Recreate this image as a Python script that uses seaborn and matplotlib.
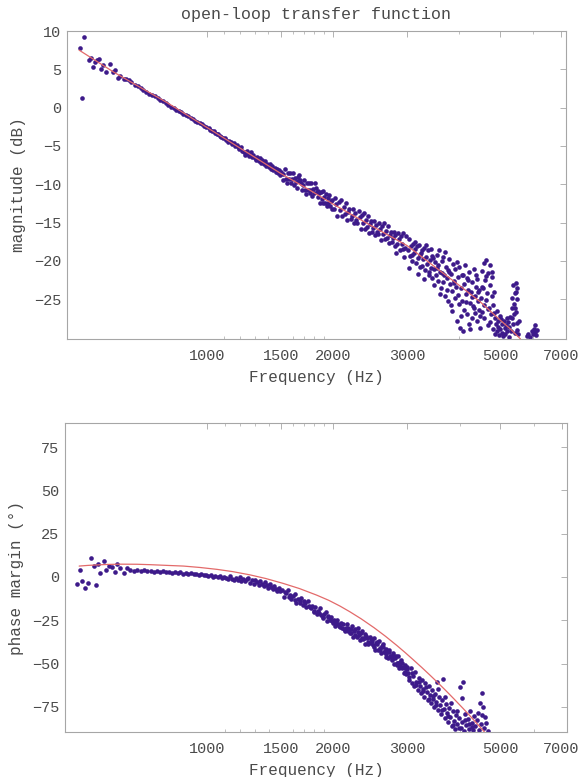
import matplotlib

matplotlib.use("Agg")

import matplotlib.pyplot as plt
import seaborn as sns
from matplotlib.ticker import NullFormatter

# ---- magnitude panel: measured points (Hz, dB) ----
mag_freq = [
    496, 509, 502, 522, 529, 533, 541, 546, 552, 558,
    563, 574, 588, 596, 604, 612, 621, 632, 641, 650,
    660, 672, 683, 695, 705, 716, 728, 740, 750, 762,
    773, 785, 796, 808, 820, 832, 843, 855, 866, 878,
    890, 902, 914, 925, 937, 948, 960, 972, 984, 996,
    1008, 1018, 1027, 1036, 1045, 1055, 1064, 1073, 1082, 1092,
    1101, 1110, 1120, 1130, 1139, 1148, 1158, 1167, 1176, 1186,
    1195, 1205, 1214, 1224, 1233, 1242, 1252, 1262, 1271, 1280,
    1290, 1300, 1309, 1318, 1328, 1337, 1346, 1356, 1365, 1374,
    1384, 1393, 1402, 1412, 1421, 1431, 1440, 1449, 1459, 1468,
    1478, 1487, 1496,
    1505, 1514, 1522, 1531, 1540, 1548, 1557, 1566, 1574, 1583,
    1592, 1600, 1609, 1618, 1626, 1635, 1644, 1652, 1661, 1670,
    1678, 1687, 1696, 1705, 1713, 1722, 1731, 1739, 1748, 1757,
    1765, 1774, 1783, 1791, 1800, 1809, 1817, 1826, 1835, 1843,
    1852, 1861, 1869, 1878, 1887, 1895, 1904, 1913, 1921, 1930,
    1939, 1947, 1956, 1965, 1973, 1982, 1991,
    2005, 2019, 2033, 2047, 2061, 2075, 2089, 2103, 2117, 2131,
    2145, 2159, 2173, 2187, 2201, 2215, 2229, 2243, 2257, 2271,
    2285, 2299, 2313, 2327, 2341, 2355, 2369, 2383, 2397, 2411,
    2425, 2439, 2453, 2467, 2481, 2495, 2509, 2523, 2537, 2551,
    2565, 2579, 2593, 2607, 2621, 2635, 2649, 2663, 2677, 2691,
    2705, 2719, 2733, 2747, 2761, 2775, 2789, 2803, 2817, 2831,
    2845, 2859, 2873, 2887, 2901, 2915, 2929, 2943, 2957, 2971,
    2985,
    3010, 3030, 3050, 3065, 3080, 3100, 3115, 3130, 3150, 3165,
    3180, 3200, 3215, 3230, 3250, 3265, 3280, 3300, 3315, 3330,
    3350, 3365, 3380, 3400, 3415, 3430, 3450, 3465, 3480, 3500,
    3515, 3530, 3550, 3565, 3580, 3600, 3615, 3630, 3650, 3665,
    3680, 3700, 3715, 3730, 3750, 3765, 3780, 3800, 3815, 3830,
    3850, 3865, 3880, 3900, 3915, 3930, 3950, 3965, 3980, 4000,
    4015, 4030, 4050, 4065, 4080, 4100, 4115, 4130, 4150, 4165,
    4180, 4200, 4215, 4230, 4250, 4265, 4280, 4300, 4315, 4330,
    4350, 4365, 4380, 4400, 4415, 4430, 4450, 4465, 4480, 4500,
    4520, 4540, 4555, 4570, 4590, 4610, 4625, 4640, 4660, 4675,
    4690, 4710, 4725, 4740, 4760, 4775, 4790, 4810, 4825, 4840,
    4860, 4875, 4890, 4910, 4925, 4940, 4960, 4975, 4990,
    5010, 5030, 5050, 5070, 5090, 5110, 5130, 5150, 5170, 5190,
    5210, 5230, 5250, 5270, 5290, 5310, 5330, 5350, 5370, 5385,
    5400, 5415, 5430, 5445, 5460, 5475, 5490, 5505, 5520, 5540,
    5790, 5850, 5900, 5950, 5990, 6020, 6050, 6080, 6110, 6140,
    3040, 3090, 3140, 3190, 3240, 3290, 3340, 3390, 3440, 3490,
    3540, 3590, 3640, 3690, 3740, 3790, 3840, 3890, 3940, 3990,
    4040, 4090, 4140, 4190, 4240, 4290, 4340, 4390, 4440, 4490,
    4530, 4580, 4630, 4680, 4730, 4780, 4830, 5340, 5420, 5480,
    5460, 5500,
]
mag_db = [
    7.8, 9.2, 1.2, 6.2, 6.5, 5.3, 6.0, 6.2, 6.3, 5.1,
    5.5, 4.7, 5.7, 4.7, 4.9, 3.9, 4.1, 3.8, 3.8, 3.6,
    3.3, 3.0, 2.8, 2.5, 2.35, 2.0, 1.8, 1.6, 1.5, 1.2,
    1.0, 0.8, 0.6, 0.4, 0.1, 0.0, -0.25, -0.4, -0.6, -0.8,
    -1.0, -1.1, -1.4, -1.5, -1.7, -1.85, -2.0, -2.2, -2.35, -2.5,
    -2.7, -2.9, -3.0, -3.1, -3.3, -3.4, -3.5, -3.7, -3.8, -3.9,
    -4.0, -4.2, -4.5, -4.3, -4.5, -4.8, -4.6, -5.0, -4.9, -5.2,
    -5.4, -5.2, -5.6, -5.8, -6.2, -5.7, -6.0, -6.3, -5.8, -6.5,
    -6.2, -6.6, -6.9, -6.4, -7.0, -6.6, -7.2, -6.9, -7.4, -7.0,
    -7.6, -7.3, -7.8, -7.4, -8.0, -7.6, -8.2, -7.9, -8.4, -8.0,
    -8.5, -8.2, -8.8,
    -8.4, -9.4, -8.7, -8.0, -9.3, -9.9, -8.5, -9.3, -8.5, -9.8,
    -9.3, -8.5, -10.1, -9.2, -9.7, -10.5, -9.1, -9.6, -8.8, -9.5,
    -9.8, -10.8, -10.1, -9.4, -10.7, -11.3, -9.9, -10.7, -9.9, -11.2,
    -10.7, -9.9, -11.5, -10.6, -11.1, -9.9, -10.5, -11.0, -11.7, -10.9,
    -11.2, -12.4, -11.0, -11.9, -10.9, -12.4, -11.7, -12.4, -11.3, -12.8,
    -11.8, -12.4, -11.4, -12.9, -12.2, -13.2, -12.1,
    -13.2, -11.8, -12.6, -14.1, -12.3, -13.3, -12.0, -14.1, -13.0, -13.9,
    -12.5, -14.7, -13.6, -13.2, -14.6, -14.1, -13.2, -15.1, -13.7, -14.7,
    -15.0, -13.5, -14.3, -15.8, -14.0, -15.0, -13.7, -15.8, -14.7, -15.6,
    -14.1, -16.3, -15.2, -14.8, -16.2, -15.7, -14.8, -16.6, -15.3, -16.2,
    -16.5, -15.0, -15.8, -17.3, -15.5, -16.5, -15.1, -17.2, -16.1, -17.0,
    -15.5, -17.7, -16.6, -16.2, -17.6, -17.0, -16.2, -18.0, -16.6, -19.0,
    -17.8, -16.3, -17.1, -18.6, -16.8, -17.8, -16.4, -18.5, -19.5, -18.3,
    -16.8,
    -18.6, -17.2, -19.4, -18.1, -20.0, -17.8, -19.0, -18.5, -20.3, -18.0,
    -19.6, -17.9, -20.8, -19.2, -18.6, -20.7, -19.8, -18.3, -21.2, -19.5,
    -20.4, -18.6, -21.5, -19.9, -18.4, -20.9, -22.2, -19.6, -21.0, -20.2,
    -21.8, -19.2, -22.6, -20.5, -18.6, -21.4, -23.5, -20.0, -22.7, -19.5,
    -21.9, -24.6, -20.8, -22.3, -25.3, -21.2, -19.7, -23.0, -25.8, -21.7,
    -23.9, -20.4, -22.6, -24.8, -21.0, -23.4, -27.9, -22.1, -24.4, -20.8,
    -28.7, -23.6, -21.9, -25.2, -29.2, -23.0, -26.4, -20.6, -24.3, -22.2,
    -26.9, -23.8, -28.3, -21.5, -25.5, -24.0, -27.4, -22.8, -25.9, -21.0,
    -24.6, -26.8, -23.4, -27.9, -22.4, -25.3, -26.4, -23.8, -28.8, -24.9,
    -21.3, -26.7, -23.6, -20.3, -27.5, -22.5, -25.1, -19.9, -24.2, -28.4,
    -21.6, -26.2, -23.1, -20.6, -27.0, -24.6, -22.1, -28.9, -25.7, -26.8,
    -29.5, -27.4, -28.2, -26.5, -29.1, -27.8, -28.6, -29.7, -27.2,
    -28.9, -27.6, -29.4, -28.2, -29.8, -27.9, -28.8, -29.6, -28.4, -27.5,
    -29.2, -28.0, -29.9, -28.6, -27.3, -29.1, -26.2, -24.8, -28.3, -23.1,
    -27.0, -25.6, -29.4, -24.2, -26.7, -22.9, -28.1, -25.0, -29.6, -27.8,
    -29.8, -29.5, -29.9, -29.2, -29.6, -28.9, -28.4, -29.3, -29.7, -29.0,
    -20.9, -19.3, -17.6, -21.7, -19.0, -22.4, -17.9, -21.9, -19.4, -23.1,
    -20.9, -24.3, -21.6, -18.9, -23.8, -21.5, -26.5, -22.9, -20.1, -25.6,
    -27.2, -21.8, -25.4, -22.5, -28.9, -24.7, -26.1, -21.9, -24.1, -27.2,
    -23.4, -25.8, -22.0, -26.3, -28.0, -21.4, -24.0, -27.4, -26.1, -29.0,
    -24.0, -23.5,
]

# magnitude fit curve
mag_fit_freq = [495, 600, 700, 800, 1000, 1250, 1500, 1750, 2000, 2500,
                3000, 3500, 4000, 4500, 5000, 5300, 5600]
mag_fit_db = [7.5, 4.6, 2.5, 0.7, -2.6, -5.9, -8.6, -10.7, -12.6, -15.6,
              -18.0, -20.8, -23.2, -25.4, -27.7, -28.9, -30.2]

# ---- phase panel: measured points (Hz, degrees) ----
phase_freq = [
    488, 496, 503, 511, 519, 527, 536, 544, 548, 556,
    566, 575, 582, 593, 604, 610, 621, 634, 644,
    655, 668, 681, 694, 707, 720, 733, 746, 759, 772,
    785, 798, 811, 824, 837, 850, 863, 876, 889, 902,
    915, 928, 941, 954, 967, 980, 993, 1006, 1019, 1032,
    1045, 1058, 1071, 1084, 1097,
    1110, 1122, 1134, 1146, 1158, 1170, 1182, 1194, 1206, 1218,
    1230, 1242, 1254, 1266, 1278, 1290, 1302, 1314, 1326, 1338,
    1350, 1362, 1374, 1386, 1398, 1410, 1422, 1434, 1446, 1458,
    1470, 1482, 1494,
    1510, 1525, 1540, 1555, 1570, 1585, 1600, 1615, 1630, 1645,
    1660, 1675, 1690, 1705, 1720, 1735, 1750, 1765, 1780, 1795,
    1810, 1825, 1840, 1855, 1870, 1885, 1900, 1915, 1930, 1945,
    1960, 1975, 1990, 2005, 2020, 2035, 2050, 2065, 2080, 2095,
    2110, 2125, 2140, 2155, 2170, 2185,
    2200, 2214, 2228, 2242, 2256, 2270, 2284, 2298, 2312, 2326,
    2340, 2354, 2368, 2382, 2396, 2410, 2424, 2438, 2452, 2466,
    2480, 2494, 2508, 2522, 2536, 2550, 2564, 2578, 2592, 2606,
    2620, 2634, 2648, 2662, 2676, 2690, 2704, 2718, 2732, 2746,
    2760, 2774, 2788, 2802, 2816, 2830, 2844, 2858, 2872, 2886,
    2900, 2914, 2928, 2942, 2956, 2970, 2984, 2998,
    3015, 3035, 3055, 3075, 3095, 3115, 3135, 3155, 3175, 3195,
    3215, 3235, 3255, 3275, 3295, 3315, 3335, 3355, 3375, 3395,
    3415, 3435, 3455, 3475, 3495, 3515, 3530, 3550, 3570, 3590,
    3610, 3630, 3655, 3675, 3695, 3715, 3735, 3755, 3775, 3800,
    3825, 3850, 3875, 3900, 3925, 3950, 3975, 4005, 4025, 4040,
    4060, 4075, 4095, 4120, 4150, 4180, 4210, 4240, 4270, 4300,
    4330, 4360, 4400, 4440, 4470, 4500, 4510, 4530, 4550, 4580,
    4630, 4680,
    2207, 2249, 2291, 2333, 2375, 2417, 2459, 2501, 2543, 2585,
    2627, 2669, 2711, 2753, 2795, 2837, 2879, 2921, 2963, 2991,
    1532, 1578, 1622, 1668, 1712, 1758, 1802, 1848, 1892, 1938,
    1982, 2028, 2072, 2118, 2162,
    3025, 3085, 3145, 3205, 3265, 3325, 3385, 3445, 3505, 3560,
    3620, 3685, 3745, 3810, 3860, 3940, 3990, 4110, 4200, 4290,
    4420, 4600,
]
phase_deg = [
    -4.2, 4.0, -2.3, -6.2, -3.3, 10.8, 6.3, -4.6, 7.5, 2.1,
    9.2, 4.0, 6.5, 6.0, 3.1, 7.5, 5.4, 2.1, 5.0,
    3.9, 3.5, 4.1, 3.4, 3.8, 3.2, 3.6, 2.9, 3.4, 2.8,
    3.2, 2.6, 3.0, 2.4, 2.8, 2.2, 2.6, 2.0, 2.4, 1.7,
    2.1, 1.5, 1.9, 1.2, 1.6, 0.9, 1.3, 0.6, 1.0, 0.2,
    0.7, -0.1, 0.4, -0.5, 0.0,
    -0.4, -1.2, 0.3, -1.0, -1.8, -0.6, -1.5, 0.2, -2.2, -1.0,
    -2.6, -1.4, -0.5, -3.2, -2.0, -3.8, -1.6, -3.0, -4.5, -2.4,
    -3.9, -5.3, -2.9, -4.7, -6.4, -4.0, -6.0, -7.2, -5.1, -7.0,
    -8.3, -6.2, -8.0,
    -7.3, -11.5, -9.5, -7.7, -11.6, -12.8, -10.8, -9.8, -15.0, -12.5,
    -14.0, -12.2, -16.0, -14.0, -17.5, -14.1, -16.7, -18.0, -16.5, -19.6,
    -17.4, -21.6, -19.7, -17.9, -22.0, -23.2, -21.3, -20.3, -25.6, -23.1,
    -24.6, -22.9, -26.7, -24.7, -28.1, -24.6, -27.0, -28.2, -26.7, -29.6,
    -27.3, -31.4, -29.3, -27.4, -31.3, -32.4,
    -32.1, -28.5, -34.8, -31.3, -30.2, -34.7, -29.5, -33.6, -36.4, -32.5,
    -31.1, -36.0, -35.0, -38.9, -34.0, -35.1, -38.9, -34.4, -37.9, -37.2,
    -39.0, -35.5, -41.9, -38.4, -37.4, -41.9, -36.7, -40.9, -43.8, -39.9,
    -38.6, -43.5, -42.5, -46.4, -41.6, -42.8, -46.8, -42.3, -45.9, -45.4,
    -47.2, -43.8, -50.3, -46.9, -45.9, -50.6, -45.5, -49.8, -52.7, -49.0,
    -47.7, -52.7, -51.8, -55.7, -51.0, -52.3, -56.2, -51.8,
    -55.6, -59.3, -52.4, -61.0, -57.1, -63.2, -54.8, -60.4, -65.0, -58.2,
    -62.7, -67.1, -59.6, -64.8, -69.0, -61.4, -66.3, -71.2, -63.0, -68.4,
    -73.0, -65.1, -70.2, -75.3, -67.4, -72.1, -60.4, -77.0, -69.5, -74.1,
    -79.3, -71.0, -59.0, -76.0, -81.2, -73.4, -78.5, -84.0, -75.6, -80.8,
    -86.2, -77.3, -83.0, -88.0, -79.5, -85.1, -81.4, -63.3, -87.0, -70.0,
    -83.6, -60.4, -88.7, -79.0, -85.3, -81.7, -87.9, -77.6, -84.2, -88.5,
    -80.3, -86.0, -82.5, -88.2, -72.9, -85.0, -67.1, -79.5, -74.8, -87.4,
    -84.4, -88.8,
    -30.2, -33.5, -31.6, -35.3, -33.2, -37.4, -35.8, -40.2, -38.9, -42.1,
    -40.5, -44.6, -43.1, -47.9, -45.8, -49.4, -51.6, -49.9, -54.8, -53.4,
    -8.7, -10.2, -13.4, -15.2, -15.3, -17.6, -20.2, -21.0, -23.5, -22.4,
    -25.4, -26.3, -29.1, -30.0, -29.7,
    -57.8, -55.2, -62.1, -60.9, -66.0, -63.8, -70.5, -68.6, -74.0, -64.5,
    -76.8, -69.2, -80.1, -72.8, -85.3, -77.6, -86.9, -82.8, -84.6, -86.8,
    -78.4, -81.0,
]

# phase fit curve
phase_fit_freq = [495, 520, 550, 580, 620, 680, 732, 800, 878, 960,
                  1055, 1150, 1266, 1380, 1517, 1660, 1825, 1950, 2073, 2189,
                  2330, 2500, 2660, 2831, 2970, 3100, 3250, 3395, 3550, 3700,
                  3880, 4075, 4200, 4300, 4420, 4550, 4620]
phase_fit_deg = [6.3, 6.7, 7.0, 7.25, 7.4, 7.35, 7.1, 6.7, 6.3, 5.5,
                 4.4, 3.1, 1.2, -0.9, -3.7, -6.7, -10.5, -13.5, -16.8, -20.1,
                 -24.2, -29.3, -34.2, -39.5, -43.8, -47.8, -52.3, -56.6, -61.1, -65.4,
                 -70.5, -75.9, -79.3, -82.0, -85.2, -88.6, -90.6]

x_ticks = [1000, 1500, 2000, 3000, 5000, 7000]
x_tick_labels = ["1000", "1500", "2000", "3000", "5000", "7000"]
x_minor = [1100, 1200, 1300, 1400, 1600, 1700, 1800, 1900, 4000, 6000]
mag_ticks = [-25, -20, -15, -10, -5, 0, 5, 10]
phase_ticks = [-75, -50, -25, 0, 25, 50, 75]

TEXT = "#4a4a4a"
FRAME = "#a6a6a6"
DOT = "#3d1a8a"
FIT = "#e36a6a"

sns.set_theme(style="white")
plt.rcParams["font.family"] = ["Liberation Mono", "DejaVu Sans Mono"]


def style_panel(ax, xlim, ylim, yticks):
    ax.set_xscale("log")
    ax.set_xlim(*xlim)
    ax.set_ylim(*ylim)
    ax.set_xticks(x_ticks, labels=x_tick_labels)
    ax.set_xticks(x_minor, minor=True)
    ax.xaxis.set_minor_formatter(NullFormatter())
    ax.set_yticks(yticks)
    ax.tick_params(axis="both", which="major", direction="in", length=4,
                   width=0.6, color=FRAME, labelcolor=TEXT, labelsize=11,
                   top=True, right=True)
    ax.tick_params(axis="x", which="major", pad=7)
    ax.tick_params(axis="y", which="major", pad=4)
    ax.tick_params(axis="x", which="minor", direction="in", length=2,
                   width=0.5, color=FRAME, top=True, bottom=True)
    for spine in ax.spines.values():
        spine.set_color(FRAME)
        spine.set_linewidth(0.8)
    ax.set_xlabel("Frequency (Hz)", fontsize=11.5, color=TEXT, labelpad=5)


fig = plt.figure(figsize=(5.8, 7.77), dpi=100)
ax1 = fig.add_axes([0.1155, 0.5637, 0.8603, 0.3964])
ax2 = fig.add_axes([0.1121, 0.0579, 0.8655, 0.3977])

sns.scatterplot(x=mag_freq, y=mag_db, ax=ax1, color=DOT, s=11,
                linewidth=0, zorder=2)
sns.lineplot(x=mag_fit_freq, y=mag_fit_db, ax=ax1, color=FIT, linewidth=0.9,
             sort=False, estimator=None, zorder=3)
style_panel(ax1, (463, 7190), (-30.2, 10), mag_ticks)
ax1.set_ylabel("magnitude (dB)", fontsize=11.5, color=TEXT, labelpad=6)
ax1.set_title("open-loop transfer function", fontsize=12, color=TEXT, pad=9)

sns.scatterplot(x=phase_freq, y=phase_deg, ax=ax2, color=DOT, s=11,
                linewidth=0, zorder=2)
sns.lineplot(x=phase_fit_freq, y=phase_fit_deg, ax=ax2, color=FIT,
             linewidth=0.9, sort=False, estimator=None, zorder=3)
style_panel(ax2, (458, 7210), (-89.5, 88.9), phase_ticks)
ax2.set_ylabel("phase margin (°)", fontsize=11.5, color=TEXT, labelpad=6)

fig.savefig("out.png", dpi=100)
